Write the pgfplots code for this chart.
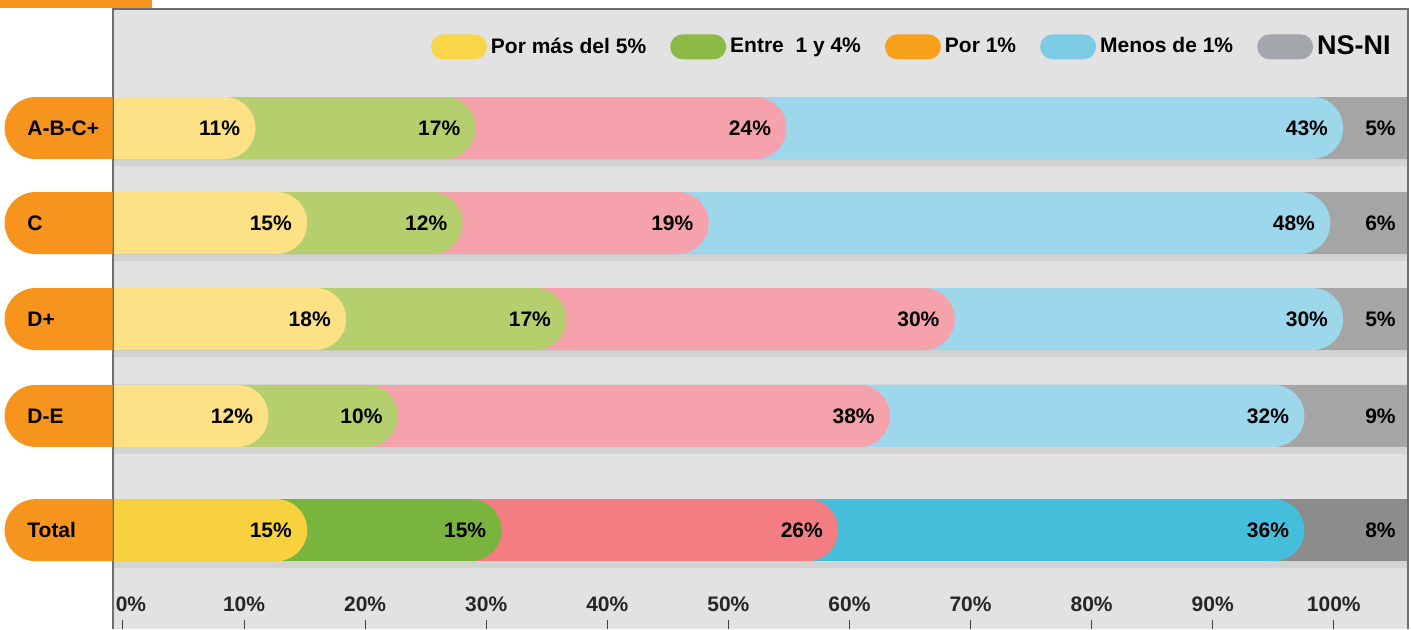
\documentclass[border=0pt]{standalone}
\usepackage{fontspec}
\setmainfont{Liberation Sans}
\usepackage{pgfplots}
\pgfplotsset{compat=1.18}
\usepackage{pgfplotstable}
\usetikzlibrary{shapes.misc}

\definecolor{ly}{HTML}{FCE285}
\definecolor{lg}{HTML}{B6CF6E}
\definecolor{lp}{HTML}{F5A2AD}
\definecolor{lb}{HTML}{9CD7EB}
\definecolor{lgr}{HTML}{A5A5A5}
\definecolor{dy}{HTML}{F7D23E}
\definecolor{dg}{HTML}{78B43E}
\definecolor{dp}{HTML}{F37D80}
\definecolor{db}{HTML}{45BEDC}
\definecolor{dgr}{HTML}{8C8C8C}
\definecolor{oc}{HTML}{F7941D}
\definecolor{bgc}{HTML}{E2E2E2}
\definecolor{shad}{HTML}{D3D3D3}
\definecolor{framec}{HTML}{6E6E6E}
\definecolor{legy}{HTML}{F9D649}
\definecolor{legg}{HTML}{8DBA45}
\definecolor{lego}{HTML}{F7A11A}
\definecolor{legb}{HTML}{7ECBE6}
\definecolor{leggr}{HTML}{A3A6AA}

\newcommand{\vfont}{\bfseries\fontsize{10.5}{12}\selectfont}

\pgfplotstableread{
y    a  b  c  d  e
4.19 11 17 24 43 5
3.2  15 12 19 48 6
2.2  18 17 30 30 5
1.19 12 10 38 32 9
}\rows
\pgfplotstableread{
y a  b  c  d  e
0 15 15 26 36 8
}\total

\pgfplotsset{
  segflat/.style={xbar, bar shift=0pt, bar width=31pt, draw=none, fill=#1, forget plot},
  seg/.style={segflat=#1, xshift=-15.5pt, mark=*, mark size=15.3pt,
    mark options={draw=#1, fill=#1, line width=0.4pt},
    point meta=explicit,
    nodes near coords={\pgfmathprintnumber{\pgfplotspointmeta}\%},
    every node near coord/.append style={anchor=east, xshift=8pt, font=\vfont, text=black, inner sep=0pt}},
  lab/.style={draw=none, mark=none, forget plot, point meta=explicit,
    nodes near coords={\pgfmathprintnumber{\pgfplotspointmeta}\%},
    every node near coord/.append style={anchor=east, xshift=-6pt, font=\vfont, text=black, inner sep=0pt}},
}

\begin{document}
\begin{tikzpicture}
\begin{axis}[name=ax, scale only axis, width=647.5pt, height=310pt,
  xmin=0, xmax=100, ymin=-1.03, ymax=5.43,
  /pgf/number format/assume math mode=true,
  axis background/.style={fill=bgc},
  axis line style={draw=none},
  ytick=\empty,
  xtick={0.77,10.12,19.47,28.82,38.17,47.52,56.87,66.22,75.57,84.92,94.27},
  xticklabels={\hspace*{8pt}0\%,10\%,20\%,30\%,40\%,50\%,60\%,70\%,80\%,90\%,100\%},
  xtick pos=left, tick align=inside, major tick length=4.5pt,
  tick style={black!75, line width=0.5pt},
  xticklabel style={anchor=south, yshift=5pt, font=\vfont, text=black!85},
  legend image code/.code={\fill[#1, rounded corners=6.25pt] (0pt,-6.25pt) rectangle (28pt,6.25pt);},
  legend style={at={(0.99,0.939)}, anchor=east, draw=none, fill=none,
    font=\bfseries\fontsize{10.5}{12}\selectfont, inner sep=0pt,
    /tikz/every even column/.append style={column sep=10pt}},
  legend columns=5, legend cell align=left,
]
\addlegendimage{fill=legy, draw=none}
\addlegendentry{Por más del 5\%}
\addlegendimage{fill=legg, draw=none}
\addlegendentry{Entre\ \ 1 y 4\%}
\addlegendimage{fill=lego, draw=none}
\addlegendentry{Por 1\%}
\addlegendimage{fill=legb, draw=none}
\addlegendentry{Menos de 1\%}
\addlegendimage{fill=leggr, draw=none}
\addlegendentry{\fontsize{13.5}{15}\selectfont NS-NI}

% shadow bands under the bars
\addplot[segflat=shad, yshift=-3.5pt] table[x expr=100, y=y] {\rows};
\addplot[segflat=shad, yshift=-3.5pt] table[x expr=100, y=y] {\total};
% light rows
\addplot[segflat=lgr] table[x expr=\thisrow{a}+\thisrow{b}+\thisrow{c}+\thisrow{d}+\thisrow{e}, y=y] {\rows};
\addplot[seg=lb] table[x expr=\thisrow{a}+\thisrow{b}+\thisrow{c}+\thisrow{d}, y=y, meta=d] {\rows};
\addplot[seg=lp] table[x expr=\thisrow{a}+\thisrow{b}+\thisrow{c}, y=y, meta=c] {\rows};
\addplot[seg=lg] table[x expr=\thisrow{a}+\thisrow{b}, y=y, meta=b] {\rows};
\addplot[seg=ly] table[x=a, y=y, meta=a] {\rows};
% total row
\addplot[segflat=dgr] table[x expr=\thisrow{a}+\thisrow{b}+\thisrow{c}+\thisrow{d}+\thisrow{e}, y=y] {\total};
\addplot[seg=db] table[x expr=\thisrow{a}+\thisrow{b}+\thisrow{c}+\thisrow{d}, y=y, meta=d] {\total};
\addplot[seg=dp] table[x expr=\thisrow{a}+\thisrow{b}+\thisrow{c}, y=y, meta=c] {\total};
\addplot[seg=dg] table[x expr=\thisrow{a}+\thisrow{b}, y=y, meta=b] {\total};
\addplot[seg=dy] table[x=a, y=y, meta=a] {\total};
% NS-NI labels at the right edge
\addplot[lab] table[x expr=100, y=y, meta=e] {\rows};
\addplot[lab] table[x expr=100, y=y, meta=e] {\total};

\coordinate (r1) at (axis cs:0,4.19);
\coordinate (r2) at (axis cs:0,3.2);
\coordinate (r3) at (axis cs:0,2.2);
\coordinate (r4) at (axis cs:0,1.19);
\coordinate (r5) at (axis cs:0,0);
\end{axis}

\draw[framec, line width=1.2pt] (ax.south west) -- (ax.north west) -- (ax.north east) -- (ax.south east);

\foreach \r/\t in {r1/A-B-C+, r2/C, r3/D+, r4/D-E, r5/Total}{
  \node[rounded rectangle, rounded rectangle east arc=none, fill=oc,
        minimum width=54pt, minimum height=31pt, inner sep=0pt, anchor=east] at (\r) {};
  \node[anchor=west, font=\vfont, inner sep=0pt] at ([xshift=-43pt]\r) {\t};
}

\fill[oc] (ax.north west) ++(-56.5pt,4.5pt) rectangle ++(76pt,-4pt);

\pgfresetboundingbox
\path[use as bounding box] (ax.south west) ++(-56.5pt,0pt) rectangle ++(705.5pt,314.5pt);
\end{tikzpicture}
\end{document}
